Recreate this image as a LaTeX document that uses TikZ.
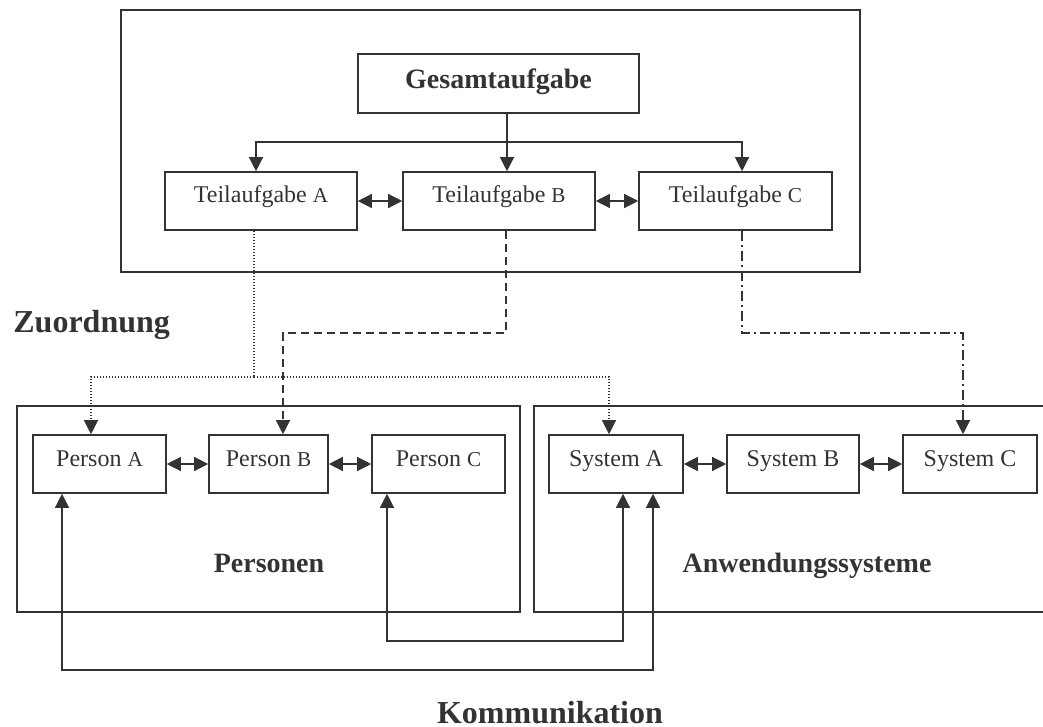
\documentclass[tikz,border=0pt]{standalone}
\usepackage{fontspec}
\setmainfont{Liberation Serif}
\usetikzlibrary{arrows.meta,calc}
\definecolor{ink}{HTML}{333333}
% slightly smaller capital used for the A/B/C tags of tasks and persons
\newcommand\tagletter[1]{{\fontsize{10.6pt}{12pt}\selectfont #1}}

\begin{document}
\begin{tikzpicture}[x=0.5pt,y=-0.5pt,
  >={Triangle[length=7pt,width=7pt]},
  frame/.style={draw=ink,line width=0.8pt},
  box/.style={draw=ink,line width=0.8pt,inner sep=0pt,text=ink,
    minimum height=29pt,font=\fontsize{12pt}{14pt}\selectfont,
    text height=9pt,text depth=7pt},
  headbox/.style={box,font=\bfseries\fontsize{14pt}{16pt}\selectfont,
    minimum height=29.5pt,text height=10pt,text depth=4.5pt},
  grouplabel/.style={text=ink,inner sep=0pt,font=\bfseries\fontsize{14pt}{16pt}\selectfont},
  biglabel/.style={text=ink,inner sep=0pt,font=\bfseries\fontsize{16pt}{18pt}\selectfont},
  conn/.style={draw=ink,line width=0.65pt},
  dotline/.style={conn,line width=0.6pt,dash pattern=on 0.5pt off 1pt},
  dashline/.style={conn,dash pattern=on 4pt off 2.5pt},
  dashdotline/.style={conn,dash pattern=on 5pt off 2pt on 1pt off 2pt}
]
\useasboundingbox (0,0) rectangle (1043,727);

% ---- task level -------------------------------------------------
\draw[frame] (121,10) rectangle (860,272);
\node[headbox,minimum width=140.5pt] (gesamt) at (498.5,83.5) {Gesamtaufgabe};
\node[box,minimum width=96pt] (teilA) at (261,201) {Teilaufgabe \tagletter{A}};
\node[box,minimum width=96pt] (teilB) at (499,201) {Teilaufgabe \tagletter{B}};
\node[box,minimum width=96.5pt] (teilC) at (735.5,201) {Teilaufgabe \tagletter{C}};

\coordinate (split) at (507,142);
\draw[conn] (gesamt.south -| split) -- (split);
\draw[conn,->] (split) -- (teilB.north -| split);
\draw[conn,->] (split) -| ($(teilA.north)+(-5,0)$);
\draw[conn,->] (split) -| ($(teilC.north)+(6.5,0)$);
\draw[conn,<->] (teilA.east) -- (teilB.west);
\draw[conn,<->] (teilB.east) -- (teilC.west);

\node[biglabel,anchor=base west] (zuordnung) at (13,332) {Zuordnung};

% ---- persons ------------------------------------------------------
\draw[frame] (17,406) rectangle (520,612);
\node[box,minimum width=66.5pt] (personA) at (99.5,464) {Person \tagletter{A}};
\node[box,minimum width=59.5pt] (personB) at (268.5,464) {Person \tagletter{B}};
\node[box,minimum width=66.5pt] (personC) at (438.5,464) {Person \tagletter{C}};
\draw[conn,<->] (personA.east) -- (personB.west);
\draw[conn,<->] (personB.east) -- (personC.west);
\node[grouplabel,anchor=base] (personen) at (269,572) {Personen};

% ---- application systems (frame runs off to the right) -------------
\draw[frame] (1044,406) -- (534,406) -- (534,612) -- (1044,612);
\node[box,minimum width=67pt] (systemA) at (616,464) {System A};
\node[box,minimum width=66pt] (systemB) at (793,464) {System B};
\node[box,minimum width=67pt] (systemC) at (970,464) {System C};
\draw[conn,<->] (systemA.east) -- (systemB.west);
\draw[conn,<->] (systemB.east) -- (systemC.west);
\node[grouplabel,anchor=base] (anwendung) at (807,572) {Anwendungssysteme};

% ---- assignments --------------------------------------------------
\coordinate (dotjoin) at (254,377);
\draw[dotline] ($(teilA.south)+(-7,0)$) -- (dotjoin);
\draw[dotline,->] (dotjoin) -| ($(personA.north)+(-8.5,0)$);
\draw[dotline,->] (dotjoin) -| ($(systemA.north)+(-7,0)$);

\coordinate (dashbend) at (506,333);
\draw[dashline,->] ($(teilB.south)+(7,0)$) -- (dashbend) -| ($(personB.north)+(14.5,0)$);

\coordinate (dashdotbend) at (742,333);
\draw[dashdotline,->] ($(teilC.south)+(6.5,0)$) -- (dashdotbend) -| ($(systemC.north)+(-7,0)$);

% ---- communication ------------------------------------------------
\coordinate (innerloop) at (387,641);
\draw[conn,<->] ($(personC.south)+(-51.5,0)$) -- (innerloop) -| ($(systemA.south)+(7,0)$);
\coordinate (outerloop) at (62,670);
\draw[conn,<->] ($(personA.south)+(-37.5,0)$) -- (outerloop) -| ($(systemA.south)+(37,0)$);

\node[biglabel,anchor=base] (kommunikation) at (550,723) {Kommunikation};
\end{tikzpicture}
\end{document}
